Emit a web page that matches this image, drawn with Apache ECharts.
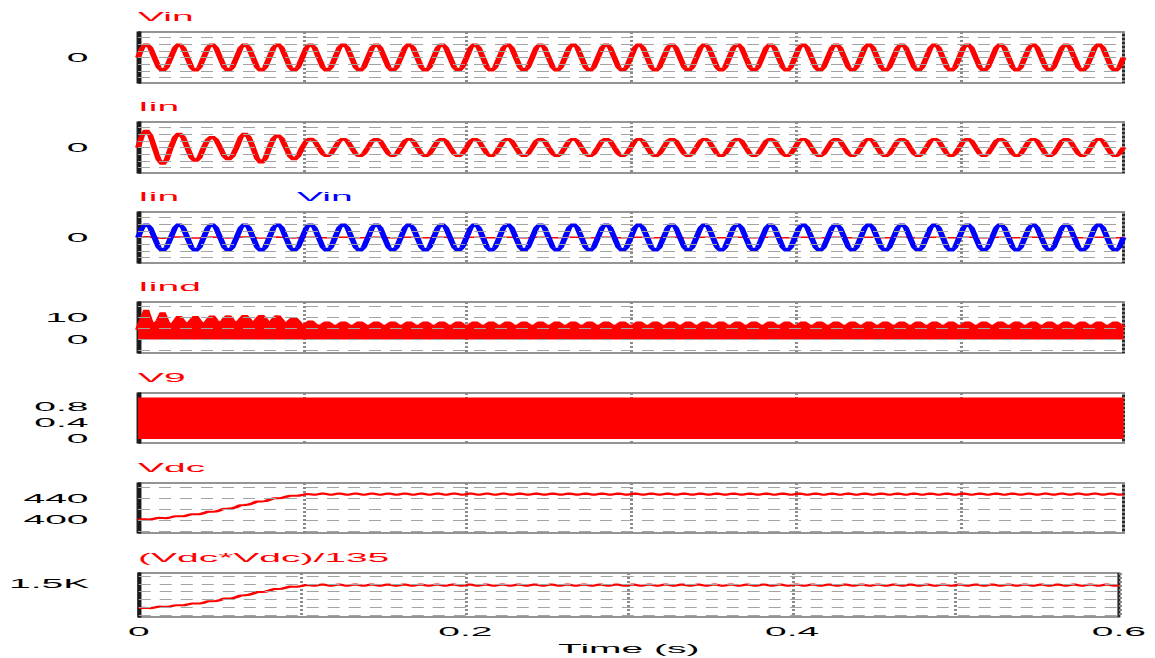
<!DOCTYPE html>
<html>
<head>
<meta charset="utf-8">
<script src="https://cdn.jsdelivr.net/npm/echarts@6.0.0/dist/echarts.min.js"></script>
<style>
html,body{margin:0;padding:0;background:#fff;overflow:hidden;}
#wrap{width:385px;height:658px;transform:scaleX(3);transform-origin:0 0;}
</style>
</head>
<body>
<div id="wrap"></div>
<script>
// ---- DATA (sampled every 2.5 ms, 0 .. 0.6 s) ----
const time = Array.from({length: 241}, (_, i) => Math.round(i * 25) / 10000);

const xTickLabels = [0, 0.2, 0.4, 0.6];

const vin = [
0,145,205,145,0,-145,-205,-145, 0,145,205,145,0,-145,-205,-145, 0,145,205,145,0,-145,-205,-145,
0,145,205,145,0,-145,-205,-145, 0,145,205,145,0,-145,-205,-145, 0,145,205,145,0,-145,-205,-145,
0,145,205,145,0,-145,-205,-145, 0,145,205,145,0,-145,-205,-145, 0,145,205,145,0,-145,-205,-145,
0,145,205,145,0,-145,-205,-145, 0,145,205,145,0,-145,-205,-145, 0,145,205,145,0,-145,-205,-145,
0,145,205,145,0,-145,-205,-145, 0,145,205,145,0,-145,-205,-145, 0,145,205,145,0,-145,-205,-145,
0,145,205,145,0,-145,-205,-145, 0,145,205,145,0,-145,-205,-145, 0,145,205,145,0,-145,-205,-145,
0,145,205,145,0,-145,-205,-145, 0,145,205,145,0,-145,-205,-145, 0,145,205,145,0,-145,-205,-145,
0,145,205,145,0,-145,-205,-145, 0,145,205,145,0,-145,-205,-145, 0,145,205,145,0,-145,-205,-145,
0,145,205,145,0,-145,-205,-145, 0,145,205,145,0,-145,-205,-145, 0,145,205,145,0,-145,-205,-145,
0,145,205,145,0,-145,-205,-145, 0,145,205,145,0,-145,-205,-145, 0,145,205,145,0,-145,-205,-145,
0];

const iin = [
0,7.4,10.5,7.2,0,-7.2,-10.2,-7.2,
0,6.1,8.6,6.1,0,-5.9,-8.4,-5.9,
0,4.7,6.6,4.7,0,-5.2,-7.4,-5.2,
0,6.1,8.6,6.1,0,-6.6,-9.4,-6.6,
0,5.4,7.6,5.4,0,-5.2,-7.4,-5.2,
0,4.0,5.6,4.0,0,-3.8,-5.4,-3.8,
0,3.9,5.5,3.9,0,-3.8,-5.4,-3.8, 0,3.9,5.5,3.9,0,-3.8,-5.4,-3.8, 0,3.9,5.5,3.9,0,-3.8,-5.4,-3.8,
0,3.9,5.5,3.9,0,-3.8,-5.4,-3.8, 0,3.9,5.5,3.9,0,-3.8,-5.4,-3.8, 0,3.9,5.5,3.9,0,-3.8,-5.4,-3.8,
0,3.9,5.5,3.9,0,-3.8,-5.4,-3.8, 0,3.9,5.5,3.9,0,-3.8,-5.4,-3.8, 0,3.9,5.5,3.9,0,-3.8,-5.4,-3.8,
0,3.9,5.5,3.9,0,-3.8,-5.4,-3.8, 0,3.9,5.5,3.9,0,-3.8,-5.4,-3.8, 0,3.9,5.5,3.9,0,-3.8,-5.4,-3.8,
0,3.9,5.5,3.9,0,-3.8,-5.4,-3.8, 0,3.9,5.5,3.9,0,-3.8,-5.4,-3.8, 0,3.9,5.5,3.9,0,-3.8,-5.4,-3.8,
0,3.9,5.5,3.9,0,-3.8,-5.4,-3.8, 0,3.9,5.5,3.9,0,-3.8,-5.4,-3.8, 0,3.9,5.5,3.9,0,-3.8,-5.4,-3.8,
0,3.9,5.5,3.9,0,-3.8,-5.4,-3.8, 0,3.9,5.5,3.9,0,-3.8,-5.4,-3.8, 0,3.9,5.5,3.9,0,-3.8,-5.4,-3.8,
0,3.9,5.5,3.9,0,-3.8,-5.4,-3.8, 0,3.9,5.5,3.9,0,-3.8,-5.4,-3.8, 0,3.9,5.5,3.9,0,-3.8,-5.4,-3.8,
0];

// upper edge of the inductor-current ripple band
const iind = [
4.5,9,13.4,8, 6,8.5,12.3,8, 5.5,8,10.5,8, 6,8.5,10.5,8, 6,8.5,10.8,8.5,
6.5,9,10.8,8.5, 6.5,9,11,9, 6.5,9,11,9, 6.5,9,10.8,8.5, 6,8.5,10,8,
5.8,7,8.4,7,
5.7,6.8,8,6.8, 5.7,6.8,8,6.8, 5.7,6.8,8,6.8, 5.7,6.8,8,6.8, 5.7,6.8,8,6.8, 5.7,6.8,8,6.8, 5.7,6.8,8,6.8,
5.7,6.8,8,6.8, 5.7,6.8,8,6.8, 5.7,6.8,8,6.8, 5.7,6.8,8,6.8, 5.7,6.8,8,6.8, 5.7,6.8,8,6.8, 5.7,6.8,8,6.8,
5.7,6.8,8,6.8, 5.7,6.8,8,6.8, 5.7,6.8,8,6.8, 5.7,6.8,8,6.8, 5.7,6.8,8,6.8, 5.7,6.8,8,6.8, 5.7,6.8,8,6.8,
5.7,6.8,8,6.8, 5.7,6.8,8,6.8, 5.7,6.8,8,6.8, 5.7,6.8,8,6.8, 5.7,6.8,8,6.8, 5.7,6.8,8,6.8, 5.7,6.8,8,6.8,
5.7,6.8,8,6.8, 5.7,6.8,8,6.8, 5.7,6.8,8,6.8, 5.7,6.8,8,6.8, 5.7,6.8,8,6.8, 5.7,6.8,8,6.8, 5.7,6.8,8,6.8,
5.7,6.8,8,6.8, 5.7,6.8,8,6.8, 5.7,6.8,8,6.8, 5.7,6.8,8,6.8, 5.7,6.8,8,6.8, 5.7,6.8,8,6.8, 5.7,6.8,8,6.8,
5.7,6.8,8,6.8, 5.7,6.8,8,6.8, 5.7,6.8,8,6.8, 5.7,6.8,8,6.8, 5.7,6.8,8,6.8, 5.7,6.8,8,6.8, 5.7,6.8,8,6.8,
5.7];

// gate signal V9: PWM between 0 and 1 (drawn as the filled switching band)
const v9Time = [0, 0.6];
const v9High = [1, 1];

const vdc = [
400.0,401.5,401.2,400.6, 402.5,404.0,403.7,403.3, 405.0,406.8,406.6,406.7, 408.5,410.6,410.5,410.6,
412.5,415.0,415.2,415.6, 418.0,420.8,421.0,421.6, 424.0,427.2,427.6,428.5, 431.0,434.0,434.0,434.6,
437.0,439.8,439.8,440.3, 442.5,444.6,444.4,444.5, 446.0,447.8,447.2,446.2,
447.4,448.8,447.4,446.0, 447.4,448.8,447.4,446.0, 447.4,448.8,447.4,446.0, 447.4,448.8,447.4,446.0, 447.4,448.8,447.4,446.0, 447.4,448.8,447.4,446.0, 447.4,448.8,447.4,446.0,
447.4,448.8,447.4,446.0, 447.4,448.8,447.4,446.0, 447.4,448.8,447.4,446.0, 447.4,448.8,447.4,446.0, 447.4,448.8,447.4,446.0, 447.4,448.8,447.4,446.0, 447.4,448.8,447.4,446.0,
447.4,448.8,447.4,446.0, 447.4,448.8,447.4,446.0, 447.4,448.8,447.4,446.0, 447.4,448.8,447.4,446.0, 447.4,448.8,447.4,446.0, 447.4,448.8,447.4,446.0, 447.4,448.8,447.4,446.0,
447.4,448.8,447.4,446.0, 447.4,448.8,447.4,446.0, 447.4,448.8,447.4,446.0, 447.4,448.8,447.4,446.0, 447.4,448.8,447.4,446.0, 447.4,448.8,447.4,446.0, 447.4,448.8,447.4,446.0,
447.4,448.8,447.4,446.0, 447.4,448.8,447.4,446.0, 447.4,448.8,447.4,446.0, 447.4,448.8,447.4,446.0, 447.4,448.8,447.4,446.0, 447.4,448.8,447.4,446.0, 447.4,448.8,447.4,446.0,
447.4,448.8,447.4,446.0, 447.4,448.8,447.4,446.0, 447.4,448.8,447.4,446.0, 447.4,448.8,447.4,446.0, 447.4,448.8,447.4,446.0, 447.4,448.8,447.4,446.0, 447.4,448.8,447.4,446.0,
447.4,448.8,447.4,446.0, 447.4,448.8,447.4,446.0, 447.4,448.8,447.4,446.0, 447.4,448.8,447.4,446.0, 447.4,448.8,447.4,446.0, 447.4,448.8,447.4,446.0, 447.4,448.8,447.4,446.0,
447.4];

// the plotted quantity of the last panel, as named in its title
const vdcSqOver135 = vdc.map(v => v * v / 135);

// panel titles, y ranges, labelled ticks and dashed grid values
const panelTitles = [['Vin'], ['Iin'], ['Iin', 'Vin'], ['Iind'], ['V9'], ['Vdc'], ['(Vdc*Vdc)/135']];
const yMin = [-380, -15.3, -380, -6.1, -0.1, 376, 1076];
const yMax = [380, 15.3, 380, 17, 1.12, 468, 1638];
const yTickLabels = [[0], [0], [0], [0, 10], [0, 0.4, 0.8], [400, 440], [1500]];
const yGridValues = [
  [-300, -200, -100, 0, 100, 200, 300],
  [-12, -8, -4, 0, 4, 8, 12],
  [-300, -200, -100, 0, 100, 200, 300],
  [-5, 0, 5, 10, 15],
  [],
  [380, 400, 420, 440, 460],
  [1100, 1200, 1300, 1400, 1500, 1600]
];

// ---- LAYOUT / STYLE ----
const FONT = 'Liberation Sans, Arial, sans-serif';
const tops = [32, 122, 212, 302, 393, 483, 573];
const heights = [51, 51, 51, 51, 50, 50, 44];
const RED = '#ff0000', BLUE = '#0000ff';

const pairs = (xs, ys) => xs.map((t, i) => [t, ys[i]]);

const grids = tops.map((t, i) => ({
  left: 46, right: 10.5, top: t, height: heights[i],
  show: true, borderColor: '#2a2a2a', borderWidth: 1, backgroundColor: 'transparent'
}));

const xAxes = tops.map((_, i) => ({
  type: 'value', gridIndex: i, min: 0, max: 0.6, interval: 0.1,
  axisLine: {show: false}, axisTick: {show: false},
  splitLine: {show: true, lineStyle: {color: '#8a8a8a', type: [2, 2], width: 1}},
  axisLabel: {
    show: i === 6, color: '#000', fontSize: 13, fontFamily: FONT, margin: 8,
    formatter: v => xTickLabels.some(x => Math.abs(x - v) < 1e-6) ? String(+v.toFixed(1)) : ''
  },
  name: i === 6 ? 'Time (s)' : '', nameLocation: 'middle', nameGap: 25,
  nameTextStyle: {color: '#000', fontSize: 13, fontFamily: FONT}
}));

const yAxes = tops.map((_, i) => ({
  type: 'value', gridIndex: i, min: yMin[i], max: yMax[i],
  axisLine: {show: true, onZero: false, lineStyle: {color: '#1a1a1a', width: 1.3}},
  axisTick: {show: false}, splitLine: {show: false},
  axisLabel: {
    customValues: yTickLabels[i], color: '#000', fontSize: 13, fontFamily: FONT, margin: 16.5,
    formatter: v => (v === 1500 ? '1.5K' : String(v))
  }
}));

const titles = [];
panelTitles.forEach((arr, i) => {
  arr.forEach((txt, j) => {
    titles.push({
      text: txt, left: j === 0 ? 46 : 99, top: tops[i] - 22, padding: 0,
      textStyle: {color: (i === 2 && j === 1) ? BLUE : RED, fontSize: 13, fontWeight: 'normal', fontFamily: FONT}
    });
  });
});

const series = [];
// dashed horizontal grid lines
yGridValues.forEach((vals, i) => {
  if (!vals.length) return;
  series.push({
    type: 'line', xAxisIndex: i, yAxisIndex: i, data: [], z: 1, silent: true,
    markLine: {
      silent: true, symbol: ['none', 'none'], label: {show: false}, animation: false,
      lineStyle: {type: [4, 3], color: '#a3a3a3', width: 1},
      data: vals.map(v => ({yAxis: v}))
    }
  });
});

const lineS = (name, i, ys, color, width, extra) => Object.assign({
  name, type: 'line', xAxisIndex: i, yAxisIndex: i, data: pairs(time, ys),
  showSymbol: false, symbol: 'none', z: 3,
  lineStyle: {color, width}, itemStyle: {color}
}, extra || {});

series.push(lineS('Vin', 0, vin, RED, 2));
series.push(lineS('Iin', 1, iin, RED, 2));
series.push(lineS('Iin', 2, iin, RED, 1.5));
series.push(lineS('Vin', 2, vin, BLUE, 2, {z: 4}));
series.push(lineS('Iind', 3, iind, RED, 2, {areaStyle: {color: RED, opacity: 1}}));
series.push({
  name: 'V9', type: 'line', xAxisIndex: 4, yAxisIndex: 4, data: pairs(v9Time, v9High),
  showSymbol: false, symbol: 'none', z: 3,
  lineStyle: {color: RED, width: 1}, areaStyle: {color: RED, opacity: 1}
});
series.push(lineS('Vdc', 5, vdc, RED, 2));
series.push(lineS('(Vdc*Vdc)/135', 6, vdcSqOver135, RED, 2));

const chart = echarts.init(document.getElementById('wrap'), null, {renderer: 'svg', width: 385, height: 658});
chart.setOption({
  animation: false,
  backgroundColor: '#fff',
  title: titles,
  grid: grids,
  xAxis: xAxes,
  yAxis: yAxes,
  series: series
});
</script>
</body>
</html>
